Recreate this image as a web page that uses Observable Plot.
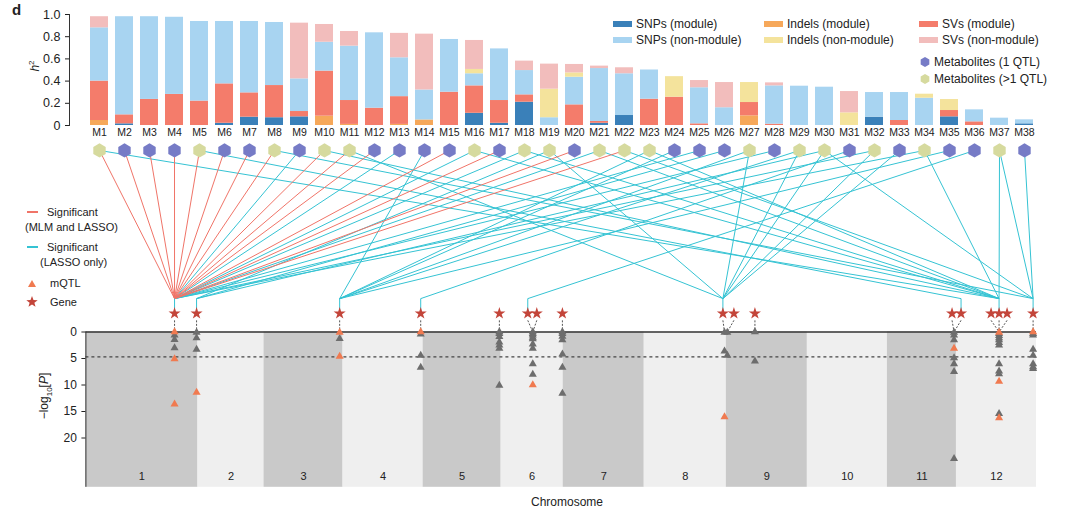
<!DOCTYPE html>
<html><head><meta charset="utf-8">
<script src="https://cdn.jsdelivr.net/npm/d3@7"></script>
<script src="https://cdn.jsdelivr.net/npm/@observablehq/plot@0.6"></script>
<style>
body{margin:0;background:#fff;font-family:"Liberation Sans",Arial,Helvetica,sans-serif;}
#fig{position:relative;width:1080px;height:514px;overflow:hidden;background:#fff;}
#fig svg{position:absolute;left:0;}
.lg{position:absolute;transform:translateY(-50%);line-height:1;white-space:nowrap;color:#222;}
.rot{position:absolute;transform:translate(-50%,-50%) rotate(-90deg);line-height:1;white-space:nowrap;color:#222;}
</style></head>
<body><div id="fig"></div>
<script>
// ---------------- DATA ----------------
const metabolites = d3.range(1, 39).map(i => "M" + i);
const types = ["SNPs (module)", "Indels (module)", "SVs (module)", "SNPs (non-module)", "Indels (non-module)", "SVs (non-module)"];
const typeColors = ["#3a80b9", "#f6a85a", "#f47c6b", "#a8d4f1", "#f4e39c", "#f2bdbc"];

const snpModule   = [0,.015,0,0,0,.02,.075,.07,.078,0, 0,0,0,0,0,.11,.02,.21,0,0, .02,.09,0,0,0,0,0,0,0,0, 0,.075,0,0,.078,0,0,.015];
const indelModule = [.045,0,0,0,0,0,0,0,0,.084, .01,0,.01,.05,0,0,0,0,0,0, 0,0,0,0,0,0,.087,0,0,0, 0,0,0,0,0,0,0,0];
const svModule    = [.355,.081,.235,.28,.22,.355,.219,.29,.048,.406, .215,.156,.25,0,.30,.247,.205,.066,0,.186, .016,0,.237,.255,.015,0,.12,.012,0,0, 0,0,.045,0,.057,.033,0,0];
const snpNon      = [.48,.884,.745,.695,.717,.562,.643,.568,.294,.26, .49,.679,.35,.27,.475,.109,.465,.219,.07,.249, .477,.376,.263,0,.325,.16,0,.345,.354,.345, 0,.222,.252,.246,0,.108,.066,.036];
const indelNon    = [0,0,0,0,0,0,0,0,0,0, 0,0,0,0,0,.039,0,0,.257,.039, 0,0,0,.185,0,0,.18,0,0,0, .114,0,0,.036,.099,0,0,0];
const svNon       = [.10,0,0,0,0,0,0,0,.502,.16, .132,0,.22,.503,0,.261,0,.085,.226,.076, .022,.054,0,0,.065,.227,0,.027,0,0, .192,0,0,0,0,0,0,0];

// 1 = metabolite with >1 QTL, 0 = 1 QTL
const multiQTL = [1,0,0,0,1,0,0,1,0,1, 1,0,0,0,0,1,0,1,1,0, 1,1,1,0,0,0,1,0,1,1, 0,1,0,1,0,0,1,0];

// chromosome lengths (Mb-like units)
const chrLen = [112, 66, 79, 80, 78, 62, 81, 82, 81, 80, 69, 80];

// candidate genes: chromosome / position, and the mQTL locus they point to
const geneId   = ["G1","G2","G3","G4","G5","G6","G7","G8","G9","G10","G11","G12","G13","G14","G15","G16","G17"];
const geneChr  = [1, 1, 3, 4, 5, 6, 6, 6, 8, 9, 9, 11, 12, 12, 12, 12, 12];
const genePos  = [88.6, 110.6, 75.6, 77.6, 76.2, 26.6, 35.6, 61.2, 78.6, 7.6, 28.6, 64.6, 4.6, 34.6, 42.6, 50.6, 76.6];
const locusChr = [1, 1, 3, 4, 5, 6, 6, 6, 8, 9, 9, 11, 11, 12, 12, 12, 12];
const locusPos = [88.6, 110.6, 75.6, 77.6, 76.2, 31.6, 31.6, 61.2, 80.2, 1.0, 28.6, 66.6, 66.6, 42.6, 42.6, 42.6, 76.6];

// mQTL -log10(P) values per locus (grey = other, lead = mQTL)
const mqtlLoci = [
  {chr: 1,  pos: 88.6,  grey: [0.6, 1.45, 3.0], lead: [0, 5.1, 13.6]},
  {chr: 1,  pos: 110.6, grey: [0.1, 1.1, 3.3], lead: [11.4]},
  {chr: 3,  pos: 75.6,  grey: [1.25], lead: [0.1, 4.6]},
  {chr: 4,  pos: 77.6,  grey: [0.4, 4.4, 6.7], lead: [0]},
  {chr: 5,  pos: 76.2,  grey: [0, 0.3, 0.9, 1.9, 2.5, 3.1, 10.1], lead: []},
  {chr: 6,  pos: 31.6,  grey: [0, 0.3, 0.6, 1.0, 1.3, 2.3, 3.1, 6.0, 8.0], lead: [10.0]},
  {chr: 6,  pos: 61.2,  grey: [0, 0.3, 0.85, 1.5, 4.2, 6.7, 11.6], lead: []},
  {chr: 8,  pos: 80.2,  grey: [0.1, 3.6], lead: [16.0]},
  {chr: 9,  pos: 1.0,   grey: [0.1, 4.4], lead: []},
  {chr: 9,  pos: 28.6,  grey: [0, 5.5], lead: []},
  {chr: 11, pos: 66.6,  grey: [0.1, 0.6, 1.5, 4.9, 6.0, 7.5, 23.9], lead: [3.1]},
  {chr: 12, pos: 42.6,  grey: [0.3, 0.7, 1.1, 1.5, 2.0, 2.5, 6.0, 7.4, 7.9, 15.4], lead: [0.1, 9.3, 16.2]},
  {chr: 12, pos: 76.6,  grey: [0.3, 0.6, 3.3, 4.4, 6.0, 6.6, 6.9], lead: [0]}
];
const threshold = 4.7;

// associations metabolite -> gene
const redEdges = [["M1","G1"],["M2","G1"],["M3","G1"],["M4","G1"],["M5","G1"],["M6","G1"],["M7","G1"],["M8","G1"],
  ["M10","G1"],["M11","G1"],["M12","G1"],["M15","G1"],["M17","G1"],["M20","G1"],["M22","G1"]];
const cyanEdges = [["M1","G15"],["M5","G13"],["M8","G17"],["M9","G1"],["M10","G15"],["M11","G9"],["M13","G1"],["M14","G3"],
  ["M16","G1"],["M16","G15"],["M18","G1"],["M18","G15"],["M19","G2"],["M19","G9"],["M21","G1"],["M21","G15"],
  ["M22","G17"],["M23","G3"],["M23","G15"],["M24","G3"],["M25","G1"],["M26","G2"],["M27","G9"],["M27","G3"],
  ["M28","G1"],["M29","G9"],["M29","G3"],["M30","G9"],["M30","G17"],["M30","G2"],["M31","G4"],["M32","G9"],
  ["M32","G1"],["M33","G9"],["M34","G1"],["M34","G15"],["M35","G3"],["M36","G6"],["M37","G15"],["M37","G17"],["M38","G17"]];

// ---------------- LAYOUT ----------------
const FONT = "Liberation Sans, Arial, Helvetica, sans-serif";
const fig = document.getElementById("fig");

// ---------------- TOP: heritability bars ----------------
const series = [snpModule, indelModule, svModule, snpNon, indelNon, svNon];
const barData = metabolites.flatMap((m, i) => types.map((t, k) => ({m, type: t, value: series[k][i]})));

const chartA = Plot.plot({
  width: 1080, height: 140,
  marginLeft: 74, marginRight: 32, marginTop: 14, marginBottom: 15,
  style: {background: "transparent", fontFamily: FONT, color: "#222"},
  x: {domain: metabolites, paddingInner: 0.3, paddingOuter: 0.15},
  y: {domain: [0, 1]},
  color: {domain: types, range: typeColors},
  marks: [
    Plot.barY(barData, {x: "m", y: "value", fill: "type", order: types}),
    Plot.frame({anchor: "left", dx: -5, stroke: "#333"}),
    Plot.axisY({ticks: [0, .2, .4, .6, .8, 1], tickFormat: d => d === 0 ? "0" : d.toFixed(1), tickSize: 4, dx: -5, fontSize: 12.5, label: null}),
    Plot.axisX({tickSize: 0, tickPadding: 3, fontSize: 10.5, label: null})
  ]
});
chartA.style.top = "0px";
fig.appendChild(chartA);

// ---------------- BOTTOM: network + Manhattan ----------------
const total = d3.sum(chrLen);
const starts = d3.cumsum([0, ...chrLen]);
const gpos = (c, p) => starts[c - 1] + p;

const xA = chartA.scale("x");
const xLin = Plot.scale({x: {domain: [0, total], range: [85.4, 1036]}});
const metX = new Map(metabolites.map(m => [m, xLin.invert(xA.apply(m) + xA.bandwidth / 2)]));

const Y_TOP = -36.13, Y_BOTTOM = 34.43;          // visible y extent (−log10 P units)
const LV_MET = -34.25, LV_HUB = -6.3, LV_STAR = -3.5, LV_DASH = -2.2, LV_PANEL = 29.3, LV_CHRLAB = 27.3;

const chrData = chrLen.map((l, i) => ({chr: i + 1, start: starts[i], end: starts[i + 1]}));
const geneData = geneId.map((id, i) => ({id, x: gpos(geneChr[i], genePos[i]), lx: gpos(locusChr[i], locusPos[i])}));
const geneX = new Map(geneData.map(g => [g.id, g.x]));
const toLinks = edges => edges.map(([m, g]) => ({mx: metX.get(m), gx: geneX.get(g)}));
const hubIds = new Set([...redEdges, ...cyanEdges].map(e => e[1]));
const hubGenes = geneData.filter(g => hubIds.has(g.id));
const qtlPts = [
  ...mqtlLoci.flatMap(l => l.grey.map(p => ({x: gpos(l.chr, l.pos), p, lead: false}))),
  ...mqtlLoci.flatMap(l => l.lead.map(p => ({x: gpos(l.chr, l.pos), p, lead: true})))
];
const metData = metabolites.map((m, i) => ({mx: metX.get(m), multi: multiQTL[i] === 1}));

const CYAN = "#35c3d3", RED = "#f07468";

const chartBC = Plot.plot({
  width: 1080, height: 374,
  marginLeft: 85.4, marginRight: 44, marginTop: 0, marginBottom: 0,
  style: {background: "transparent", fontFamily: FONT, color: "#222"},
  x: {domain: [0, total], axis: null},
  y: {domain: [Y_TOP, Y_BOTTOM], reverse: true},
  marks: [
    Plot.rect(chrData, {x1: "start", x2: "end", y1: 0, y2: LV_PANEL, fill: d => d.chr % 2 ? "#c9c9c9" : "#efefef"}),
    Plot.text(chrData, {x: d => (d.start + d.end) / 2, y: LV_CHRLAB, text: d => String(d.chr), fontSize: 11, fill: "#222"}),
    Plot.ruleY([threshold], {x1: 0, x2: total, stroke: "#444", strokeDasharray: "3,3", strokeWidth: 1.2}),
    Plot.ruleY([0], {x1: 0, x2: total, stroke: "#333", strokeWidth: 1.4}),
    Plot.ruleX([0], {y1: 0, y2: LV_PANEL, stroke: "#333"}),
    Plot.axisY({ticks: [0, 5, 10, 15, 20], tickSize: 4, fontSize: 12, label: null}),
    Plot.link(toLinks(cyanEdges), {x1: "mx", y1: LV_MET, x2: "gx", y2: LV_HUB, stroke: CYAN, strokeWidth: 1}),
    Plot.link(toLinks(redEdges), {x1: "mx", y1: LV_MET, x2: "gx", y2: LV_HUB, stroke: RED, strokeWidth: 1}),
    Plot.link(hubGenes, {x1: "x", x2: "x", y1: LV_HUB, y2: LV_STAR, stroke: CYAN, strokeWidth: 1}),
    Plot.link(geneData, {x1: "x", y1: LV_DASH, x2: "lx", y2: 0, stroke: "#555", strokeDasharray: "2,1.5", strokeWidth: 1}),
    Plot.dot(qtlPts, {x: "x", y: "p", symbol: "triangle", r: 3, fill: d => d.lead ? "#f07a50" : "#6d6d6d"}),
    Plot.dot(geneData, {x: "x", y: LV_STAR, symbol: "star", r: 3.8, fill: "#c3453a"}),
    Plot.dot(metData, {x: "mx", y: LV_MET, symbol: "hexagon", r: 6.2, fill: d => d.multi ? "#d6da9e" : "#767bc6"})
  ]
});
chartBC.style.top = "140px";
fig.appendChild(chartBC);

// ---------------- HTML texts & legends ----------------
function text(html, left, cy, size = 12, extra = "") {
  const d = document.createElement("div");
  d.className = "lg"; d.innerHTML = html;
  d.style.cssText += `left:${left}px;top:${cy}px;font-size:${size}px;${extra}`;
  fig.appendChild(d);
}
function rotText(html, cx, cy, size = 12) {
  const d = document.createElement("div");
  d.className = "rot"; d.innerHTML = html;
  d.style.cssText += `left:${cx}px;top:${cy}px;font-size:${size}px;`;
  fig.appendChild(d);
}
function swatch(left, cy, w, h, color) {
  const d = document.createElement("div");
  d.style.cssText = `position:absolute;left:${left}px;top:${cy - h / 2}px;width:${w}px;height:${h}px;background:${color};`;
  fig.appendChild(d);
}
const hexPts = (cx, cy, R) => d3.range(6).map(k => {
  const a = Math.PI / 3 * k - Math.PI / 2;
  return [cx + R * Math.cos(a), cy + R * Math.sin(a)].join(",");
}).join(" ");
const starPts = (cx, cy, R, r) => d3.range(10).map(k => {
  const a = Math.PI / 5 * k - Math.PI / 2, rr = k % 2 ? r : R;
  return [cx + rr * Math.cos(a), cy + rr * Math.sin(a)].join(",");
}).join(" ");

text("d", 12, 9, 15, "font-weight:bold;");
rotText("<i>h</i><sup style='font-size:8px'>2</sup>", 34, 66, 12);
rotText("−log<sub style='font-size:8px'>10</sub>[<i>P</i>]", 46, 396, 12);
text("Chromosome", 531, 502, 12);

// top legend
const legCols = [[613, 636], [764, 787], [919, 942]];
types.forEach((t, k) => {
  const col = legCols[k % 3], cy = k < 3 ? 24 : 40;
  swatch(col[0], cy, 19, 6, typeColors[k]);
  text(t, col[1], cy, 12);
});
text("Metabolites (1 QTL)", 934, 62, 12);
text("Metabolites (&gt;1 QTL)", 934, 79, 12);

// left legend
swatch(27, 212, 11, 1.2, RED);
text("Significant", 47, 212, 11);
text("(MLM and LASSO)", 25, 227, 11);
swatch(27, 247, 11, 1.2, CYAN);
text("Significant", 47, 247, 11);
text("(LASSO only)", 40, 262, 11);
text("mQTL", 50, 283, 11);
text("Gene", 50, 302, 11);

const sv = document.createElementNS("http://www.w3.org/2000/svg", "svg");
sv.setAttribute("width", 1080); sv.setAttribute("height", 514);
sv.style.cssText = "position:absolute;left:0;top:0;pointer-events:none;";
sv.innerHTML =
  `<polygon points="${hexPts(925, 62, 5)}" fill="#767bc6"/>` +
  `<polygon points="${hexPts(925, 79, 5)}" fill="#d6da9e"/>` +
  `<polygon points="28,287 32,280 36,287" fill="#f07a50" transform="translate(0,0) scale(1)"/>` +
  `<polygon points="${starPts(32, 302, 6, 2.5)}" fill="#c3453a"/>`;
fig.appendChild(sv);
</script></body></html>
